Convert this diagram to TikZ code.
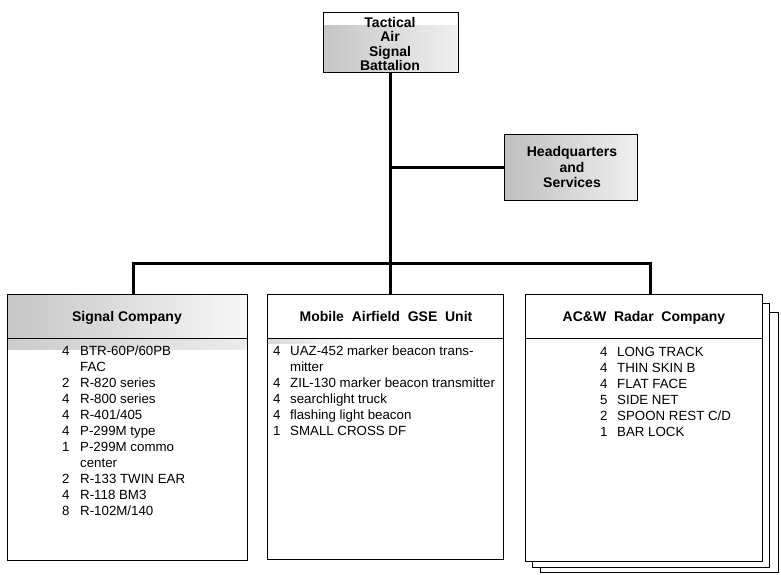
\documentclass[tikz,border=0pt]{standalone}
\usepackage{fontspec}
\setmainfont{Liberation Sans}
\begin{document}
\begin{tikzpicture}[x=1pt,y=-1pt,
  box/.style={draw=black, line width=1.4pt, anchor=north west, inner sep=0pt},
  page/.style={draw=black, line width=1.2pt, fill=white, anchor=north west, inner sep=0pt},
  conn/.style={line width=3pt, black},
  sep/.style={line width=1pt, black},
  ttl/.style={font=\bfseries\fontsize{14}{16}\selectfont, inner sep=0pt, anchor=base},
  stk/.style={font=\bfseries\fontsize{14}{14.4}\selectfont, align=center, inner sep=0pt},
  hqt/.style={font=\bfseries\fontsize{14}{15.5}\selectfont, align=center, inner sep=0pt},
  lst/.style={font=\fontsize{13.3}{16}\selectfont, inner sep=0pt, anchor=base west}
]
\useasboundingbox (0,0) rectangle (781,575);

% ---------- top box ----------
\node[box, minimum width=135pt, minimum height=60pt, left color=gray!45, right color=gray!12] (tasb) at (323,12) {};
\fill[white] (324,13) rectangle (457,25);
\node[stk] (tasbt) at (390,44) {Tactical\\Air\\Signal\\Battalion};

% ---------- HQ box ----------
\node[box, minimum width=133pt, minimum height=66pt, left color=gray!50, right color=gray!12] (hq) at (504,134) {};
\node[hqt] (hqt) at (572,167) {Headquarters\\and\\Services};

% ---------- Signal Company ----------
\shade[left color=gray!45, right color=gray!6] (7,294) rectangle (247,338);
\shade[left color=gray!40, right color=gray!15] (7,338) rectangle (247,349);
\node[box, minimum width=240pt, minimum height=266pt] (sig) at (7,294) {};
\draw[sep] (7,338) -- (247,338);
\node[ttl] (sigt) at (127,321) {Signal Company};
\node[lst] (sigl) at (62,355) {\begin{tabular}[t]{@{}p{18pt}@{}l@{}}
4 & BTR-60P/60PB\\
  & FAC\\
2 & R-820 series\\
4 & R-800 series\\
4 & R-401/405\\
4 & P-299M type\\
1 & P-299M commo\\
  & center\\
2 & R-133 TWIN EAR\\
4 & R-118 BM3\\
8 & R-102M/140
\end{tabular}};

% ---------- Mobile Airfield GSE Unit ----------
\shade[left color=gray!30, right color=white] (268,338) rectangle (360,343);
\node[box, minimum width=236pt, minimum height=265pt] (mob) at (267,294) {};
\draw[sep] (267,338) -- (503,338);
\node[ttl] (mobt) at (386,321) {Mobile\ \ Airfield\ \ GSE\ \ Unit};
\node[lst] (mobl) at (273,355) {\begin{tabular}[t]{@{}p{17pt}@{}l@{}}
4 & UAZ-452 marker beacon trans-\\
  & mitter\\
4 & ZIL-130 marker beacon transmitter\\
4 & searchlight truck\\
4 & flashing light beacon\\
1 & SMALL CROSS DF
\end{tabular}};

% ---------- AC&W Radar Company (stacked) ----------
\node[page, minimum width=238pt, minimum height=260pt] (acw3) at (540,312) {};
\node[page, minimum width=237pt, minimum height=264pt] (acw2) at (532,303) {};
\node[box, fill=white, minimum width=237pt, minimum height=267pt] (acw) at (525,294) {};
\draw[sep] (525,338) -- (762,338);
\node[ttl] (acwt) at (644,321) {AC\&W\ \ Radar\ \ Company};
\node[lst] (acwl) at (600,356) {\begin{tabular}[t]{@{}p{17pt}@{}l@{}}
4 & LONG TRACK\\
4 & THIN SKIN B\\
4 & FLAT FACE\\
5 & SIDE NET\\
2 & SPOON REST C/D\\
1 & BAR LOCK
\end{tabular}};

% ---------- connectors ----------
\coordinate (busL) at (133,263);
\coordinate (busC) at (390,263);
\coordinate (busR) at (650,263);
\draw[conn] (tasb.south -| busC) -- (busC);
\draw[conn] (hq.west -| busC) -- (hq.west);
\draw[conn] (sig.north -| busL) -- (busL) -- (busR) -- (acw.north -| busR);
\draw[conn] (busC) -- (mob.north -| busC);
\end{tikzpicture}
\end{document}
